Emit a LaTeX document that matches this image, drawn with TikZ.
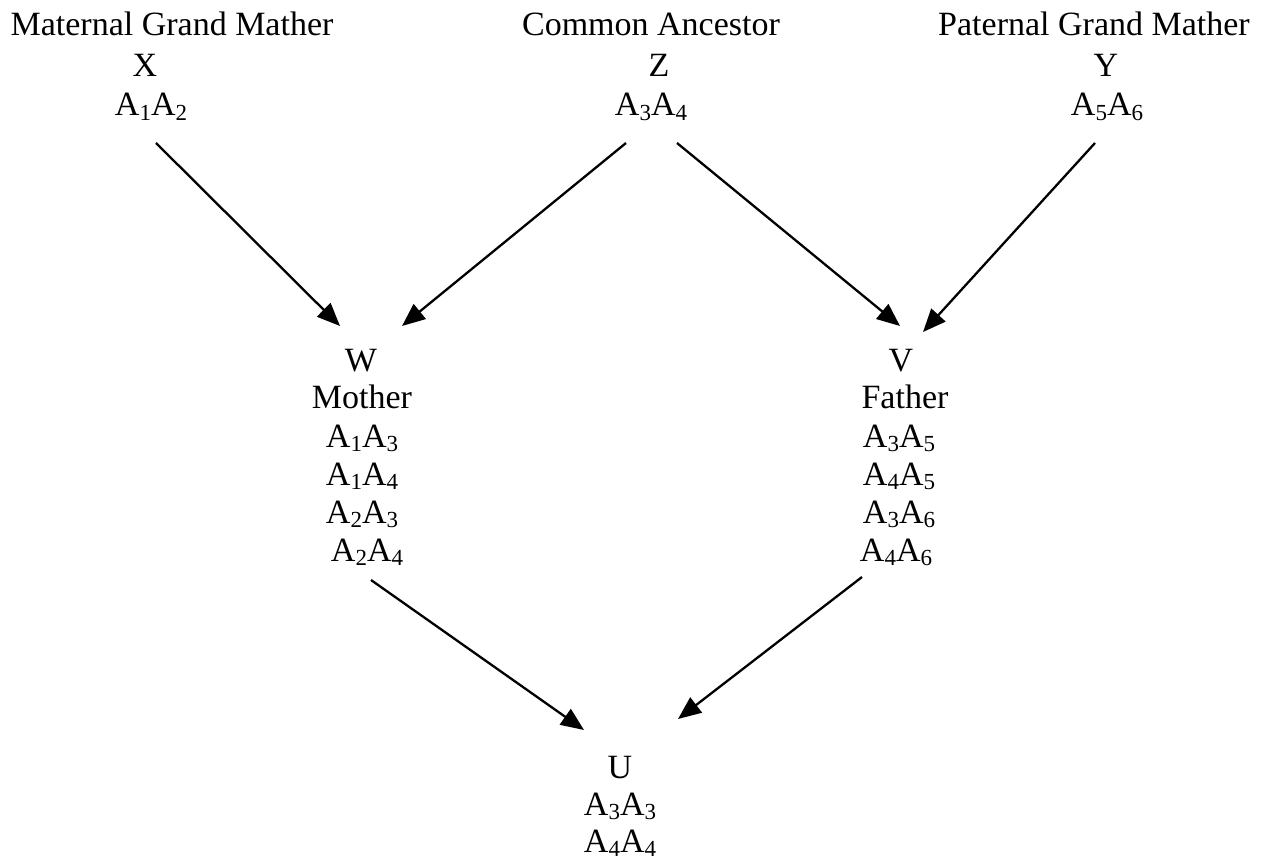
\documentclass[tikz,border=0pt]{standalone}
\usepackage{fontspec}
\setmainfont{Liberation Serif}
\usetikzlibrary{arrows.meta}
\newcommand{\sbs}[1]{\raisebox{-4.5pt}{\fontsize{23}{23}\selectfont #1}}
\begin{document}
\begin{tikzpicture}[x=1pt,y=-1pt,
  lbl/.style={anchor=base,inner sep=0pt,font=\fontsize{34}{38}\selectfont},
  arr/.style={line width=2.3pt,-{Triangle[length=23pt,width=19pt]}}]
\useasboundingbox (0,0) rectangle (1261,861);
% top row
\node[lbl] (mgm) at (172,36) {Maternal Grand Mather};
\node[lbl] (x)   at (145,77) {X};
\node[lbl] (a12) at (151,116) {A\sbs{1}A\sbs{2}};
\node[lbl] (ca)  at (651,36) {Common Ancestor};
\node[lbl] (z)   at (659,77) {Z};
\node[lbl] (a34) at (651,116) {A\sbs{3}A\sbs{4}};
\node[lbl] (pgm) at (1094,36) {Paternal Grand Mather};
\node[lbl] (y)   at (1106,77) {Y};
\node[lbl] (a56) at (1107,116) {A\sbs{5}A\sbs{6}};
% mother
\node[lbl] (w)   at (361,371) {W};
\node[lbl] (mo)  at (362,408) {Mother};
\node[lbl] (a13) at (362,447) {A\sbs{1}A\sbs{3}};
\node[lbl] (a14) at (362,485) {A\sbs{1}A\sbs{4}};
\node[lbl] (a23) at (362,523) {A\sbs{2}A\sbs{3}};
\node[lbl] (a24) at (367,561) {A\sbs{2}A\sbs{4}};
% father
\node[lbl] (v)   at (901,371) {V};
\node[lbl] (fa)  at (905,408) {Father};
\node[lbl] (a35) at (899,447) {A\sbs{3}A\sbs{5}};
\node[lbl] (a45) at (899,485) {A\sbs{4}A\sbs{5}};
\node[lbl] (a36) at (899,523) {A\sbs{3}A\sbs{6}};
\node[lbl] (a46) at (896,561) {A\sbs{4}A\sbs{6}};
% child
\node[lbl] (u)   at (620,778) {U};
\node[lbl] (a33) at (620,815) {A\sbs{3}A\sbs{3}};
\node[lbl] (a44) at (620,852) {A\sbs{4}A\sbs{4}};
% arrows
\draw[arr] ([shift={(5,27)}]a12.base) -- ([shift={(-21,-45)}]w.base);
\draw[arr] ([shift={(-25,27)}]a34.base) -- ([shift={(41,-45)}]w.base);
\draw[arr] ([shift={(26,27)}]a34.base) -- ([shift={(-1,-45)}]v.base);
\draw[arr] ([shift={(-12,27)}]a56.base) -- ([shift={(22,-39)}]v.base);
\draw[arr] ([shift={(4,19)}]a24.base) -- ([shift={(-36,-48)}]u.base);
\draw[arr] ([shift={(-34,16)}]a46.base) -- ([shift={(58,-59)}]u.base);
\end{tikzpicture}
\end{document}
